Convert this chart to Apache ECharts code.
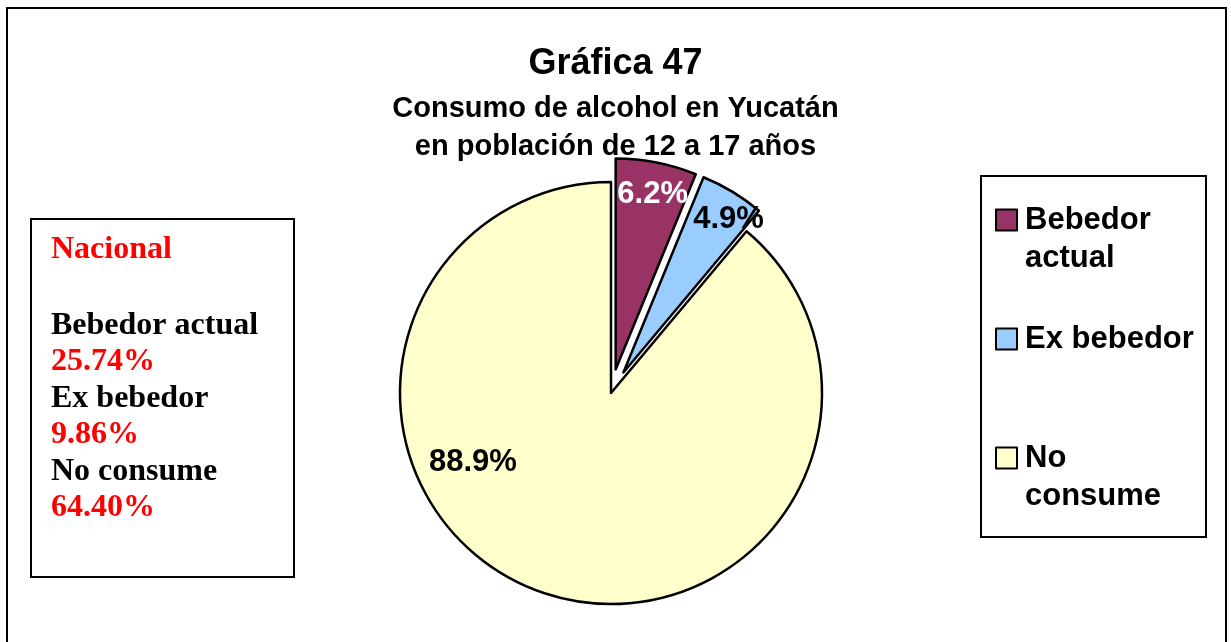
<!DOCTYPE html>
<html>
<head>
<meta charset="utf-8">
<script src="https://cdn.jsdelivr.net/npm/echarts@6/dist/echarts.min.js"></script>
<style>
  html, body { margin: 0; padding: 0; background: #fff; }
  #chart { width: 1231px; height: 642px; }
</style>
</head>
<body>
<div id="chart"></div>
<script>
// Yucatán, population aged 12 to 17: alcohol consumption shares (%)
const categories = ['Bebedor actual', 'Ex bebedor', 'No consume'];
const values = [6.2, 4.9, 88.9];
const legendLabels = ['Bebedor\nactual', 'Ex bebedor', 'No\nconsume'];
const sliceColors = ['#993366', '#99CCFF', '#FFFFCC'];
const labelColors = ['#FFFFFF', '#000000', '#000000'];
const explodedSlices = [true, true, false];

// National reference figures shown in the side box
const nationalTitle = 'Nacional';
const nationalLabels = ['Bebedor actual', 'Ex bebedor', 'No consume'];
const nationalValues = ['25.74%', '9.86%', '64.40%'];

const SANS = '"Liberation Sans", Arial, sans-serif';
const SERIF = '"Liberation Serif", "Times New Roman", serif';

const chart = echarts.init(document.getElementById('chart'), null, { renderer: 'canvas' });

// nudges for the in-slice percentage labels
const labelNudge = [[16, -69], [49, -60], [-101, -33]];

const pieData = categories.map((name, i) => ({
  name,
  value: values[i],
  selected: explodedSlices[i],
  itemStyle: { color: sliceColors[i] },
  select: { itemStyle: { color: sliceColors[i], borderColor: '#000', borderWidth: 2.5 } },
  label: { color: labelColors[i] }
}));

// one legend block per category so each row sits at its own height;
// a leading blank line keeps the swatch beside the first line of a two-line name
const legendTops = [163, 320, 401];
const legends = categories.map((name, i) => {
  const twoLines = legendLabels[i].indexOf('\n') >= 0;
  return {
    data: [name],
    orient: 'vertical',
    left: 995,
    top: legendTops[i],
    padding: 0,
    icon: 'rect',
    itemWidth: 21,
    itemHeight: 21,
    selectedMode: false,
    formatter: () => (twoLines ? ' \n' : '') + legendLabels[i],
    itemStyle: { borderColor: '#000', borderWidth: 2 },
    textStyle: {
      fontFamily: SANS,
      fontWeight: 'bold',
      fontSize: 31,
      color: '#000',
      lineHeight: 38,
      padding: [0, 0, 0, 3]
    }
  };
});

// side box with the national figures
const nationalElements = [
  {
    type: 'text', left: 51, top: 234,
    style: { text: nationalTitle, font: 'bold 32px ' + SERIF, fill: '#FF0000' }
  }
];
nationalLabels.forEach((lab, i) => {
  nationalElements.push({
    type: 'text', left: 51, top: 310 + i * 73,
    style: { text: lab, font: 'bold 32px ' + SERIF, fill: '#000' }
  });
  nationalElements.push({
    type: 'text', left: 51, top: 346 + i * 73,
    style: { text: nationalValues[i], font: 'bold 32px ' + SERIF, fill: '#FF0000' }
  });
});

const option = {
  backgroundColor: '#fff',
  animation: false,
  title: {
    text: 'Gráfica 47',
    subtext: 'Consumo de alcohol en Yucatán\nen población de 12 a 17 años',
    left: 'center',
    top: 41,
    itemGap: 8,
    textStyle: { fontFamily: SANS, fontWeight: 'bold', fontSize: 36, color: '#000' },
    subtextStyle: { fontFamily: SANS, fontWeight: 'bold', fontSize: 29, color: '#000', lineHeight: 38 }
  },
  legend: legends,
  graphic: [
    {
      type: 'rect', shape: { x: 7, y: 8, width: 1219, height: 700 },
      style: { fill: 'none', stroke: '#000', lineWidth: 2 }, silent: true, z: 0
    },
    {
      type: 'rect', shape: { x: 981, y: 176, width: 225, height: 361 },
      style: { fill: 'none', stroke: '#000', lineWidth: 2 }, silent: true
    },
    {
      type: 'rect', shape: { x: 31, y: 219, width: 263, height: 358 },
      style: { fill: 'none', stroke: '#000', lineWidth: 2 }, silent: true
    },
    { type: 'group', children: nationalElements }
  ],
  series: [
    {
      type: 'pie',
      center: [611, 393],
      radius: 211,
      startAngle: 90,
      clockwise: true,
      selectedMode: 'multiple',
      selectedOffset: 24,
      avoidLabelOverlap: false,
      emphasis: { disabled: true, scale: false },
      itemStyle: { borderColor: '#000', borderWidth: 2.5 },
      label: {
        show: true,
        position: 'inside',
        fontFamily: SANS,
        fontWeight: 'bold',
        fontSize: 31,
        formatter: p => p.value.toFixed(1) + '%'
      },
      labelLine: { show: false },
      labelLayout: p => ({ dx: labelNudge[p.dataIndex][0], dy: labelNudge[p.dataIndex][1] }),
      data: pieData
    }
  ]
};

chart.setOption(option);
</script>
</body>
</html>
